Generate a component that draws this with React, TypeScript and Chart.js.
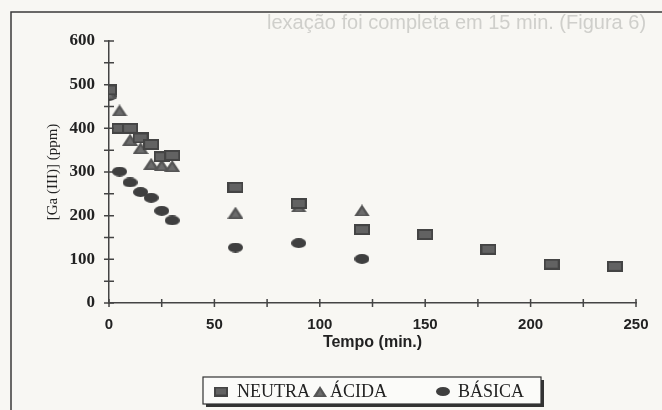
import React, { useEffect, useRef } from "react";
import { Chart, registerables } from "chart.js";

Chart.register(...registerables);

// ---- data ----
const seriesLabels = ["NEUTRA", "ÁCIDA", "BÁSICA"];

const neutraTempo = [0, 5, 10, 15, 20, 25, 30, 60, 90, 120, 150, 180, 210, 240];
const neutraGa = [488, 400, 400, 378, 363, 335, 338, 265, 228, 168, 157, 123, 89, 84];

const acidaTempo = [0, 5, 10, 15, 20, 25, 30, 60, 90, 120];
const acidaGa = [480, 441, 374, 355, 319, 316, 314, 207, 221, 212];

const basicaTempo = [0, 5, 10, 15, 20, 25, 30, 60, 90, 120];
const basicaGa = [474, 301, 276, 254, 241, 211, 189, 127, 137, 101];

const xTickValues = [0, 50, 100, 150, 200, 250];
const yTickValues = [0, 100, 200, 300, 400, 500, 600];
const xMinorStep = 25;
const yMinorStep = 50;

const xTitle = "Tempo (min.)";
const yTitle = "[Ga (III)] (ppm)";
const ghostText = "lexação foi completa em 15 min. (Figura 6)";

type Kind = "rect" | "triangle" | "ellipse";

function makeMarker(kind: Kind, scale = 1): HTMLCanvasElement {
  const c = document.createElement("canvas");
  const ctx = c.getContext("2d")!;
  if (kind === "rect") {
    const w = Math.round(16 * scale), h = Math.round(11 * scale);
    c.width = w;
    c.height = h;
    ctx.fillStyle = "#444";
    ctx.fillRect(0, 0, w, h);
    ctx.fillStyle = "#626262";
    ctx.fillRect(2, 2, w - 4, h - 4);
  } else if (kind === "triangle") {
    const w = Math.round(16 * scale), h = Math.round(12 * scale);
    c.width = w;
    c.height = h;
    ctx.fillStyle = "#555";
    ctx.beginPath();
    ctx.moveTo(w / 2, 0);
    ctx.lineTo(w, h);
    ctx.lineTo(0, h);
    ctx.closePath();
    ctx.fill();
    ctx.fillStyle = "#6c6c6c";
    ctx.beginPath();
    ctx.moveTo(w / 2, 4);
    ctx.lineTo(w - 4, h - 1.5);
    ctx.lineTo(4, h - 1.5);
    ctx.closePath();
    ctx.fill();
  } else {
    const w = Math.round(15 * scale), h = Math.round(10 * scale);
    c.width = w;
    c.height = h;
    ctx.fillStyle = "#3f3f3f";
    ctx.beginPath();
    ctx.ellipse(w / 2, h / 2, w / 2, h / 2, 0, 0, Math.PI * 2);
    ctx.fill();
  }
  return c;
}

export default function App() {
  const ref = useRef<HTMLCanvasElement | null>(null);

  useEffect(() => {
    document.body.style.margin = "0";
    const canvas = ref.current;
    if (!canvas) return;

    const kinds: Kind[] = ["rect", "triangle", "ellipse"];
    const markers = kinds.map((k) => makeMarker(k));
    const legendMarkers = kinds.map((k) => makeMarker(k, 0.9));
    const xs = [neutraTempo, acidaTempo, basicaTempo];
    const ys = [neutraGa, acidaGa, basicaGa];

    const backgroundPlugin = {
      id: "paper",
      beforeDraw(chart: any) {
        const { ctx, width, height } = chart;
        ctx.save();
        ctx.fillStyle = "#f8f7f3";
        ctx.fillRect(0, 0, width, height);
        ctx.strokeStyle = "#3a3a3a";
        ctx.lineWidth = 1.5;
        ctx.beginPath();
        ctx.moveTo(11, height);
        ctx.lineTo(11, 12);
        ctx.lineTo(width, 12);
        ctx.stroke();
        ctx.fillStyle = "#cfcfcb";
        ctx.font = "20px 'Liberation Sans', Arial, sans-serif";
        ctx.textBaseline = "middle";
        ctx.textAlign = "left";
        ctx.fillText(ghostText, 267, 23);
        ctx.restore();
      },
    };

    const ticksPlugin = {
      id: "crossTicks",
      afterDraw(chart: any) {
        const { ctx, chartArea, scales } = chart;
        const x = scales.x;
        const y = scales.y;
        ctx.save();
        ctx.strokeStyle = "#444";
        ctx.lineWidth = 1.5;
        ctx.beginPath();
        for (let v = x.min; v <= x.max; v += xMinorStep) {
          const px = x.getPixelForValue(v);
          ctx.moveTo(px, chartArea.bottom - 4);
          ctx.lineTo(px, chartArea.bottom + 4);
        }
        for (let v = y.min; v <= y.max; v += yMinorStep) {
          const py = y.getPixelForValue(v);
          ctx.moveTo(chartArea.left - 5, py);
          ctx.lineTo(chartArea.left + 5, py);
        }
        ctx.stroke();
        ctx.restore();
      },
    };

    const legendPlugin = {
      id: "boxLegend",
      afterDraw(chart: any) {
        const { ctx } = chart;
        const bx = 203, by = 377, bw = 338, bh = 27;
        ctx.save();
        ctx.fillStyle = "#333";
        ctx.fillRect(bx + 3, by + 3, bw, bh);
        ctx.fillStyle = "#fbfbf9";
        ctx.fillRect(bx, by, bw, bh);
        ctx.strokeStyle = "#333";
        ctx.lineWidth = 1.2;
        ctx.strokeRect(bx, by, bw, bh);
        const markerX = [221, 320, 443];
        const textX = [237, 330, 458];
        const cy = by + bh / 2 + 1;
        ctx.font = "18px 'Liberation Serif', 'Times New Roman', serif";
        ctx.fillStyle = "#222";
        ctx.textBaseline = "middle";
        ctx.textAlign = "left";
        chart.data.datasets.forEach((ds: any, i: number) => {
          const m = legendMarkers[i];
          ctx.drawImage(m, markerX[i] - m.width / 2, cy - m.height / 2);
          ctx.fillText(ds.label, textX[i], cy + 1);
        });
        ctx.restore();
      },
    };

    const chart = new Chart(canvas, {
      type: "scatter",
      data: {
        datasets: seriesLabels.map((label, i) => ({
          label,
          data: xs[i].map((t, j) => ({ x: t, y: ys[i][j] })),
          pointStyle: markers[i] as any,
          pointRadius: 8,
          showLine: false,
        })),
      },
      options: {
        animation: false,
        responsive: false,
        devicePixelRatio: 1,
        layout: { padding: { left: 0, right: 26, top: 41, bottom: 50 } },
        plugins: {
          legend: { display: false },
          tooltip: { enabled: false },
        },
        scales: {
          x: {
            type: "linear",
            min: 0,
            max: 250,
            afterBuildTicks: (scale: any) => {
              scale.ticks = xTickValues.map((v) => ({ value: v }));
            },
            afterFit: (scale: any) => {
              scale.height = 57;
            },
            grid: { display: false, drawTicks: false },
            border: { display: true, color: "#444", width: 1.5 },
            ticks: {
              padding: 13,
              color: "#222",
              font: { family: "'Liberation Sans', Arial, sans-serif", size: 15, weight: "bold" },
            },
            title: {
              display: true,
              text: xTitle,
              color: "#222",
              font: { family: "'Liberation Sans', Arial, sans-serif", size: 16, weight: "bold" },
              padding: { top: 0, bottom: 8 },
            },
          },
          y: {
            type: "linear",
            min: 0,
            max: 600,
            afterBuildTicks: (scale: any) => {
              scale.ticks = yTickValues.map((v) => ({ value: v }));
            },
            afterFit: (scale: any) => {
              scale.width = 109;
            },
            grid: { display: false, drawTicks: false },
            border: { display: true, color: "#444", width: 1.5 },
            ticks: {
              padding: 14,
              color: "#222",
              font: { family: "'Liberation Serif', 'Times New Roman', serif", size: 17, weight: "bold" },
            },
            title: {
              display: true,
              text: yTitle,
              color: "#222",
              font: { family: "'Liberation Serif', 'Times New Roman', serif", size: 15 },
              padding: { top: 44, bottom: 0 },
            },
          },
        },
      },
      plugins: [backgroundPlugin, ticksPlugin, legendPlugin],
    });

    return () => chart.destroy();
  }, []);

  return (
    <div style={{ position: "absolute", left: 0, top: 0, width: 662, height: 410 }}>
      <canvas ref={ref} width={662} height={410} style={{ display: "block", width: 662, height: 410 }} />
    </div>
  );
}
